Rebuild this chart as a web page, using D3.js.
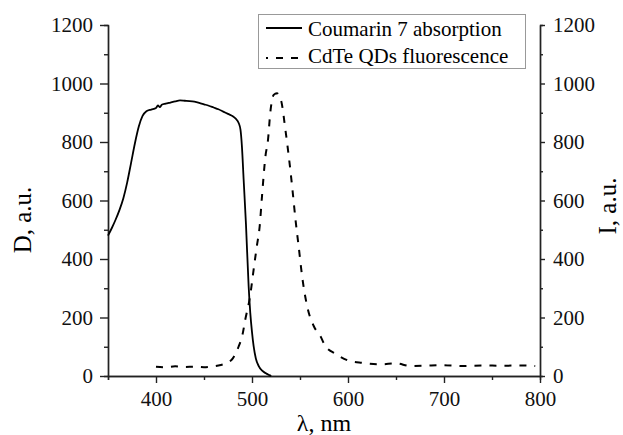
<!DOCTYPE html>
<html>
<head>
<meta charset="utf-8">
<script src="https://cdn.jsdelivr.net/npm/d3@7"></script>
<style>
  body { margin: 0; background: #fff; }
  svg { display: block; }
  svg text { font-family: "Liberation Serif", "Times New Roman", serif; }
</style>
</head>
<body>
<div id="chart"></div>
<script>
'use strict';

// Coumarin 7 absorption (left axis)
const absLambda = [350, 354, 358, 362, 366, 370, 374, 378, 382, 386, 390, 395, 400, 402, 404, 406, 410,
  415, 420, 425, 430, 435, 440, 445, 450, 455, 460, 465, 470, 475, 480, 483, 486, 488, 489.5,
  491.3, 493.7, 496.5, 498.2, 500, 501.7, 504, 507, 510, 514, 518, 520];
const absValues = [480, 506, 535, 568, 608, 662, 728, 795, 852, 889, 905, 911, 916, 925, 919, 927, 931,
  935, 939, 942, 941, 940, 938, 934, 929, 924, 918, 912, 904, 896, 888, 880, 866, 842, 785,
  671, 520, 307, 216, 150, 102, 60, 34, 20, 10, 3, 0];

// CdTe QDs fluorescence (right axis)
const flLambda = [400, 410, 420, 430, 440, 450, 460, 465, 470, 475, 480, 486, 490, 493, 498, 501.7,
  505, 508, 510.4, 514, 516.7, 519, 522.6, 526, 528, 530.6, 534.8, 538.3, 541.8, 545.3, 548.6,
  552.2, 557.4, 564.3, 571.3, 576, 587, 602, 615, 634, 650, 665, 680, 697, 720, 740, 760, 780, 795];
const flValues = [32, 30, 33, 31, 32, 30, 33, 36, 40, 46, 60, 100, 140, 193, 273, 364,
  443, 512, 614, 751, 808, 899, 961, 967, 960, 938, 842, 751, 648, 535, 443,
  341, 239, 171, 136, 105, 76, 51, 45, 40, 43, 34, 35, 37, 34, 36, 35, 36, 34];

const xTicks = [400, 500, 600, 700, 800];
const xMinor = [350, 450, 550, 650, 750];
const yTicks = [0, 200, 400, 600, 800, 1000, 1200];
const yMinor = [100, 300, 500, 700, 900, 1100];
const legendLabels = ['Coumarin 7 absorption', 'CdTe QDs fluorescence'];

const W = 623, H = 435;
const margin = {top: 25, right: 83, bottom: 59, left: 108};

const svg = d3.select('#chart').append('svg')
  .attr('width', W)
  .attr('height', H);

const x = d3.scaleLinear().domain([350, 800]).range([margin.left, W - margin.right]);
const yL = d3.scaleLinear().domain([0, 1200]).range([H - margin.bottom, margin.top]);
const yR = d3.scaleLinear().domain([0, 1200]).range([H - margin.bottom, margin.top]);
const fmt = d3.format('d');

function styleAxis(g) {
  g.attr('font-family', null);
  g.selectAll('path, line').attr('stroke', '#222').attr('stroke-width', 1.4);
  g.selectAll('text').attr('font-size', 21).attr('fill', '#111');
}

// minor ticks first, then major
svg.append('g')
  .attr('transform', `translate(0,${yL(0)})`)
  .call(d3.axisBottom(x).tickValues(xMinor).tickSize(4).tickFormat(''))
  .call(styleAxis);
svg.append('g')
  .attr('transform', `translate(0,${yL(0)})`)
  .call(d3.axisBottom(x).tickValues(xTicks).tickSize(7).tickPadding(8).tickSizeOuter(0).tickFormat(fmt))
  .call(styleAxis);

svg.append('g')
  .attr('transform', `translate(${margin.left},0)`)
  .call(d3.axisLeft(yL).tickValues(yMinor).tickSize(4).tickFormat(''))
  .call(styleAxis);
svg.append('g')
  .attr('transform', `translate(${margin.left},0)`)
  .call(d3.axisLeft(yL).tickValues(yTicks).tickSize(8).tickPadding(7).tickSizeOuter(0).tickFormat(fmt))
  .call(styleAxis);

svg.append('g')
  .attr('transform', `translate(${W - margin.right},0)`)
  .call(d3.axisRight(yR).tickValues(yMinor).tickSize(3).tickFormat(''))
  .call(styleAxis);
svg.append('g')
  .attr('transform', `translate(${W - margin.right},0)`)
  .call(d3.axisRight(yR).tickValues(yTicks).tickSize(5).tickPadding(8).tickSizeOuter(0).tickFormat(fmt))
  .call(styleAxis);

// axis titles
svg.append('text')
  .attr('x', (margin.left + W - margin.right) / 2)
  .attr('y', 431)
  .attr('text-anchor', 'middle')
  .attr('font-size', 24)
  .text('λ, nm');

svg.append('text')
  .attr('transform', 'translate(31,220) rotate(-90)')
  .attr('text-anchor', 'middle')
  .attr('font-size', 25)
  .text('D, a.u.');

svg.append('text')
  .attr('transform', 'translate(616,206) rotate(-90)')
  .attr('text-anchor', 'middle')
  .attr('font-size', 25)
  .text('I, a.u.');

// curves
const absLine = d3.line()
  .x((d, i) => x(absLambda[i]))
  .y((d) => yL(d))
  .curve(d3.curveMonotoneX);

const flLine = d3.line()
  .x((d, i) => x(flLambda[i]))
  .y((d) => yR(d))
  .curve(d3.curveMonotoneX);

svg.append('path')
  .datum(absValues)
  .attr('d', absLine)
  .attr('fill', 'none')
  .attr('stroke', '#000')
  .attr('stroke-width', 1.8);

svg.append('path')
  .datum(flValues)
  .attr('d', flLine)
  .attr('fill', 'none')
  .attr('stroke', '#000')
  .attr('stroke-width', 2)
  .attr('stroke-dasharray', '7,8');

// legend
const legend = svg.append('g');
legend.append('rect')
  .attr('x', 258.5)
  .attr('y', 14.5)
  .attr('width', 267)
  .attr('height', 54)
  .attr('fill', '#fff')
  .attr('stroke', '#999')
  .attr('stroke-width', 1);

legendLabels.forEach((label, i) => {
  const ly = 28 + i * 30;
  legend.append('line')
    .attr('x1', 266).attr('x2', 302)
    .attr('y1', ly).attr('y2', ly)
    .attr('stroke', '#000')
    .attr('stroke-width', 1.8)
    .attr('stroke-dasharray', i === 0 ? null : '7,8')
    .attr('stroke-dashoffset', i === 0 ? null : 5);
  legend.append('text')
    .attr('x', 308)
    .attr('y', 36 + i * 27)
    .attr('font-size', 21)
    .text(label);
});
</script>
</body>
</html>
